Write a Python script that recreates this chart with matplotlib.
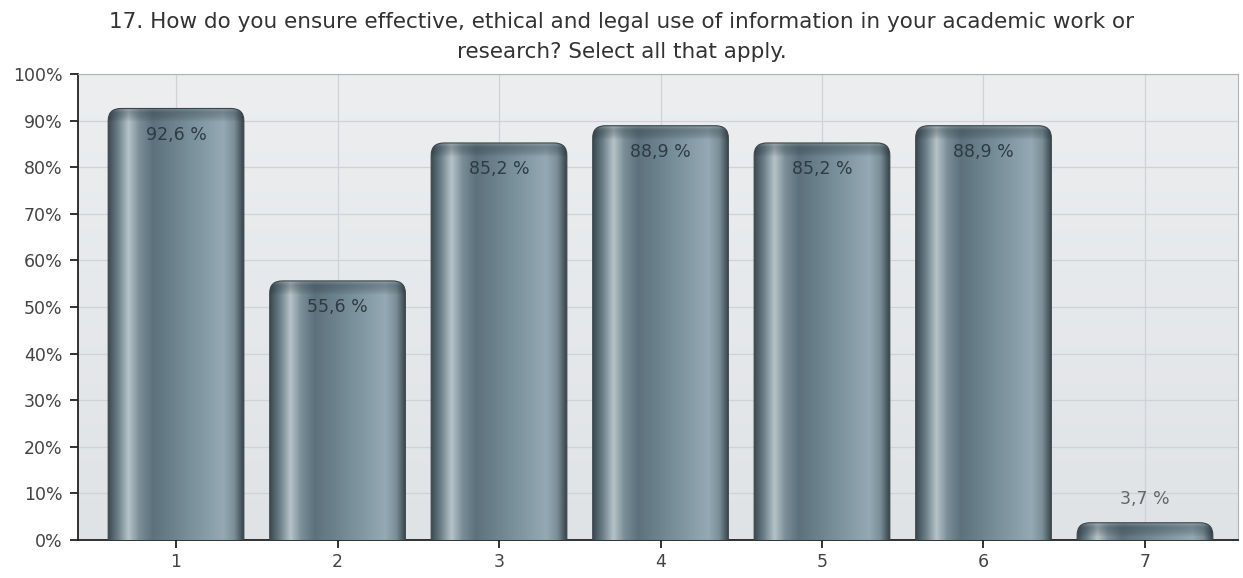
import numpy as np
import matplotlib.pyplot as plt
from matplotlib.patches import FancyBboxPatch
from matplotlib.colors import LinearSegmentedColormap

plt.rcParams['font.family'] = ['DejaVu Sans']

categories = ['1', '2', '3', '4', '5', '6', '7']
values = [92.6, 55.6, 85.2, 88.9, 85.2, 88.9, 3.7]
labels = ['92,6 %', '55,6 %', '85,2 %', '88,9 %', '85,2 %', '88,9 %', '3,7 %']
yticks = [0, 10, 20, 30, 40, 50, 60, 70, 80, 90, 100]

title1 = '17. How do you ensure effective, ethical and legal use of information in your academic work or'
title2 = 'research? Select all that apply.'

fig = plt.figure(figsize=(12.43, 5.78), dpi=100)
ax = fig.add_axes([78 / 1243, 38 / 578, (1238 - 78) / 1243, (540 - 74) / 578])

x = np.arange(1, len(categories) + 1)
ax.set_xlim(0.393, 7.576)
ax.set_ylim(0, 100)

# background gradient
bg = LinearSegmentedColormap.from_list('bg', ['#e0e3e6', '#eceef0'])
ax.imshow(np.linspace(0, 1, 256).reshape(-1, 1), cmap=bg, aspect='auto',
          extent=(0.393, 7.576, 0, 100), origin='lower', zorder=0)

ax.set_yticks(yticks)
ax.set_yticklabels([f'{t}%' for t in yticks])
ax.set_xticks(x)
ax.set_xticklabels(categories)
ax.grid(True, color='#cfd3d7', linewidth=0.9, zorder=1)
ax.set_axisbelow(True)

for s in ['top', 'right']:
    ax.spines[s].set_color('#b0b4b8')
    ax.spines[s].set_linewidth(0.8)
for s in ['left', 'bottom']:
    ax.spines[s].set_color('#222222')
    ax.spines[s].set_linewidth(1.3)
ax.tick_params(axis='both', direction='out', length=6, width=1.3, color='#222222',
               labelsize=12.5, labelcolor='#444444')
ax.tick_params(axis='y', pad=5)

# cylinder-like gradient for bars
bar_cmap = LinearSegmentedColormap.from_list('cyl', [
    (0.00, '#3c4a51'), (0.07, '#6a7e88'), (0.15, '#b6c3c9'), (0.23, '#7a8e98'),
    (0.33, '#5c717b'), (0.60, '#78909a'), (0.85, '#94a9b3'), (0.93, '#7b8f98'),
    (1.00, '#374349')])
grad = np.linspace(0, 1, 256).reshape(1, -1)
vshade = LinearSegmentedColormap.from_list('cap', [(0, (0, 0, 0, 0)), (0.7, (0.2, 0.25, 0.28, 0.35)),
                                                   (1, (0.55, 0.6, 0.63, 0.5))])

bar_w = 0.84
rx = 0.08
ry = 2.6
bars = ax.bar(x, values, bar_w, color='none', edgecolor='none', zorder=2)
for b, v, lab in zip(bars, values, labels):
    x0 = b.get_x()
    w = b.get_width()
    top = b.get_height()
    patch = FancyBboxPatch((x0, -6), w, top + 6,
                           boxstyle=f'round,pad=0,rounding_size={rx}',
                           mutation_aspect=ry / rx,
                           facecolor='none', edgecolor='#3a464c', linewidth=0.8,
                           transform=ax.transData, zorder=4)
    ax.add_patch(patch)
    im = ax.imshow(grad, cmap=bar_cmap, aspect='auto',
                   extent=(x0, x0 + w, -6, top), zorder=3)
    im.set_clip_path(patch)
    # shading near the top
    cap_h = min(3.0, top)
    cap = ax.imshow(np.linspace(0, 1, 64).reshape(-1, 1), cmap=vshade, aspect='auto',
                    extent=(x0, x0 + w, top - cap_h, top), origin='lower', zorder=3.5)
    cap.set_clip_path(patch)
    if v > 10:
        ax.text(b.get_x() + w / 2, v - 5.6, lab, ha='center', va='center',
                fontsize=12.5, color='#2e3b42', zorder=5)
    else:
        ax.text(b.get_x() + w / 2, v + 5.0, lab, ha='center', va='center',
                fontsize=12.5, color='#666666', zorder=5)

fig.text(0.5, 1 - 28 / 578, title1, ha='center', va='baseline', fontsize=15.5, color='#333333')
fig.text(0.5, 1 - 58 / 578, title2, ha='center', va='baseline', fontsize=15.5, color='#333333')

fig.savefig('out.png', dpi=100)
